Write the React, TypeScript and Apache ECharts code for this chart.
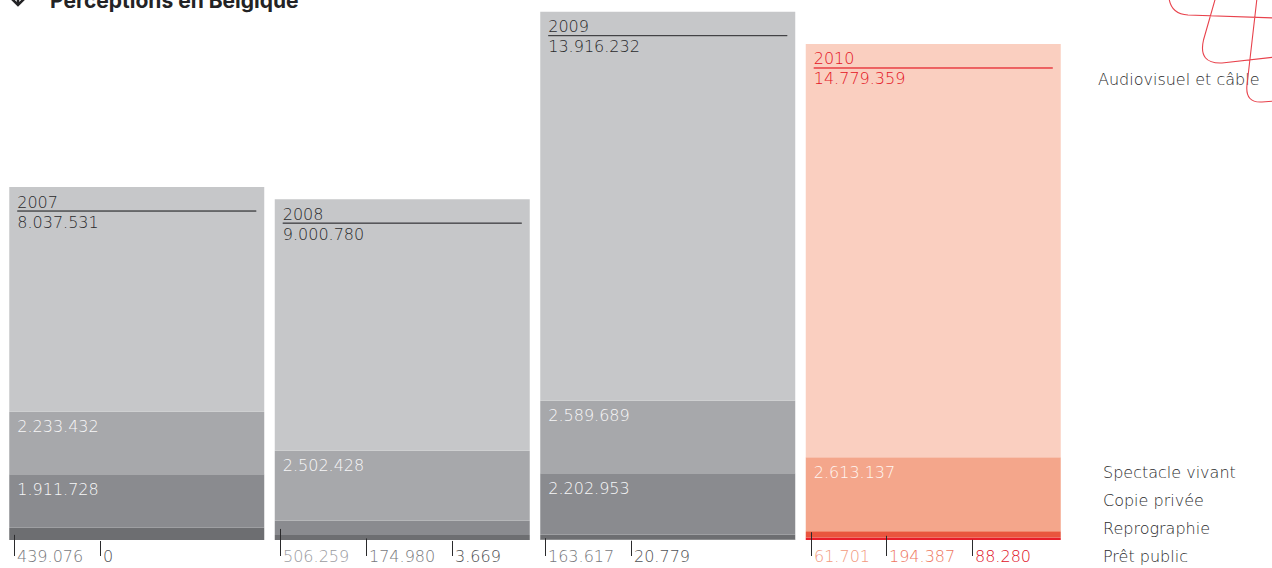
import React, { useEffect, useRef } from 'react';
import * as echarts from 'echarts';

const years = ['2007', '2008', '2009', '2010'];
const seriesNames = ['Prêt public', 'Reprographie', 'Copie privée', 'Spectacle vivant', 'Audiovisuel et câble'];
const pretPublic = [0, 3669, 20779, 88280];
const reprographie = [439076, 174980, 163617, 194387];
const copiePrivee = [1911728, 506259, 2202953, 61701];
const spectacleVivant = [2233432, 2502428, 2589689, 2613137];
const audiovisuel = [8037531, 9000780, 13916232, 14779359];
const legendLabels = ['Spectacle vivant', 'Copie privée', 'Reprographie', 'Prêt public'];
const topLegendLabel = 'Audiovisuel et câble';
const title = 'Perceptions en Belgique';
const highlightIndex = 3;
const yMax = 19310000;
const smallThreshold = 1000000;

const greyColors = ['#5e5f62', '#6d6e71', '#8a8b8f', '#a7a8ab', '#c6c7c9'];
const redColors = ['#e81e2a', '#e9553e', '#f0876b', '#f4a68b', '#facfc0'];
const greyBottomLabel = ['#505154', '#77787c', '#9a9b9f'];
const redBottomLabel = ['#e0101e', '#ee7760', '#f29a80'];

const FONT = 'DejaVu Sans';
const FW = 200;
const FS = 16;
const BAR_W = 255;
const TEXT_DARK = '#2a2a2c';

const logoPath =
  'M1169 -2 Q1171 14 1188 15 L1275 18 ' +
  'M1215.5 -2 L1203.5 40 Q1198 64 1222 63 L1275 57 ' +
  'M1257 -2 L1247 85 Q1245 103 1262 102 L1275 101';

let registered = false;
function registerLogo() {
  if (registered) return;
  try {
    echarts.graphic.registerShape('logo', echarts.graphic.extendPath(logoPath, {}) as any);
    registered = true;
  } catch (e) {
    registered = false;
  }
}

const fmt = (v: number) => String(v).replace(/\B(?=(\d{3})+(?!\d))/g, '.');

export default function App() {
  const ref = useRef<HTMLDivElement>(null);
  useEffect(() => {
    if (!ref.current) return;
    registerLogo();
    const chart = echarts.init(ref.current, null, { renderer: 'svg' });
    const allSeries = [pretPublic, reprographie, copiePrivee, spectacleVivant, audiovisuel];

    const series = allSeries.map((arr, s) => ({
      name: seriesNames[s],
      type: 'bar',
      stack: 'total',
      barWidth: BAR_W,
      silent: true,
      data: arr.map((v, i) => {
        const hi = i === highlightIndex;
        const color = (hi ? redColors : greyColors)[s];
        const item: any = { value: v, itemStyle: { color } };
        if (s === 4) {
          const tc = hi ? '#e4141f' : TEXT_DARK;
          item.label = {
            show: true,
            position: [8, 6],
            formatter: `{y|${years[i]}}\n{hr|}\n{v|${fmt(v)}}`,
            rich: {
              y: { fontFamily: FONT, fontWeight: FW, fontSize: FS, lineHeight: 18, color: tc },
              hr: { width: BAR_W - 16, height: 0, borderWidth: 0.7, borderColor: tc },
              v: { fontFamily: FONT, fontWeight: FW, fontSize: FS, lineHeight: 22, color: tc },
            },
          };
        } else if (s >= 2 && v >= smallThreshold) {
          item.label = {
            show: true,
            position: [8, 5],
            formatter: fmt(v),
            fontFamily: FONT,
            fontWeight: FW,
            fontSize: FS,
            lineHeight: 20,
            color: hi ? '#fff6f2' : '#f7f7f8',
          };
        } else {
          item.label = { show: false };
        }
        return item;
      }),
    }));

    chart.setOption({
      animation: false,
      grid: { left: 4, right: 206, top: 0, bottom: 28, containLabel: false },
      xAxis: { type: 'category', data: years, show: false },
      yAxis: { type: 'value', min: 0, max: yMax, show: false },
      series,
    } as any);

    const canvas = document.createElement('canvas');
    const ctx = canvas.getContext('2d')!;
    ctx.font = `${FW} ${FS}px "${FONT}"`;
    const measure = (t: string) => ctx.measureText(t).width;

    const graphics: any[] = [];
    years.forEach((_, i) => {
      const xc = chart.convertToPixel({ xAxisIndex: 0 }, i) as number;
      const left = xc - BAR_W / 2;
      const hi = i === highlightIndex;
      const labelColors = hi ? redBottomLabel : greyBottomLabel;
      const items: { v: number; base: number; c: string }[] = [];
      if (copiePrivee[i] < smallThreshold)
        items.push({ v: copiePrivee[i], base: pretPublic[i] + reprographie[i], c: labelColors[2] });
      items.push({ v: reprographie[i], base: pretPublic[i], c: labelColors[1] });
      items.push({ v: pretPublic[i], base: 0, c: labelColors[0] });
      let x = Math.round(left + 5) + 0.5;
      items.forEach((it) => {
        const yMid = chart.convertToPixel({ yAxisIndex: 0 }, it.base + it.v / 2) as number;
        graphics.push({
          type: 'line',
          silent: true,
          shape: { x1: x, y1: yMid + 1, x2: x, y2: 556 },
          style: { stroke: '#2a2a2c', lineWidth: 1 },
          z: 10,
        });
        const t = fmt(it.v);
        graphics.push({
          type: 'text',
          silent: true,
          x: x + 2.5,
          y: 556,
          style: {
            text: t,
            fill: it.c,
            fontFamily: FONT,
            fontWeight: FW,
            fontSize: FS,
            verticalAlign: 'middle',
            align: 'left',
          },
          z: 10,
        });
        x = Math.round(x + 3 + measure(t) + 16) + 0.5;
      });
    });

    // right legend, aligned to the highlighted bar's labels
    const hiTotal =
      pretPublic[highlightIndex] + reprographie[highlightIndex] + copiePrivee[highlightIndex] +
      spectacleVivant[highlightIndex] + audiovisuel[highlightIndex];
    const hiSpecTop = hiTotal - audiovisuel[highlightIndex];
    const yTop = chart.convertToPixel({ yAxisIndex: 0 }, hiTotal) as number;
    const ySpec = chart.convertToPixel({ yAxisIndex: 0 }, hiSpecTop) as number;
    graphics.push({
      type: 'text',
      silent: true,
      x: 1098,
      y: yTop + 36,
      style: { text: topLegendLabel, fill: TEXT_DARK, fontFamily: FONT, fontWeight: FW, fontSize: FS, verticalAlign: 'middle' },
    });
    legendLabels.forEach((l, k) => {
      graphics.push({
        type: 'text',
        silent: true,
        x: 1103,
        y: ySpec + 15 + k * 28,
        style: { text: l, fill: TEXT_DARK, fontFamily: FONT, fontWeight: FW, fontSize: FS, verticalAlign: 'middle' },
      });
    });

    // title (cut off at top) and arrow
    graphics.push({
      type: 'text',
      silent: true,
      x: 50,
      y: 11,
      style: { text: title, fill: '#232325', fontFamily: 'Inter', fontWeight: 700, fontSize: 21, verticalAlign: 'bottom' },
    });
    graphics.push({
      type: 'polyline',
      silent: true,
      shape: { points: [[11, -2], [18, 5], [25, -2]] },
      style: { stroke: '#232325', lineWidth: 2.6, fill: 'none' },
    });
    graphics.push({
      type: 'line',
      silent: true,
      shape: { x1: 18, y1: -10, x2: 18, y2: 5 },
      style: { stroke: '#232325', lineWidth: 2.6 },
    });
    if (registered) {
      graphics.push({
        type: 'logo',
        silent: true,
        x: 0,
        y: 0,
        style: { fill: 'none', stroke: '#e8424c', lineWidth: 1.1 },
      });
    }

    chart.setOption({ graphic: graphics } as any);

    return () => chart.dispose();
  }, []);

  return (
    <div
      ref={ref}
      style={{ position: 'absolute', left: 0, top: 0, width: 1272, height: 568 }}
    />
  );
}
